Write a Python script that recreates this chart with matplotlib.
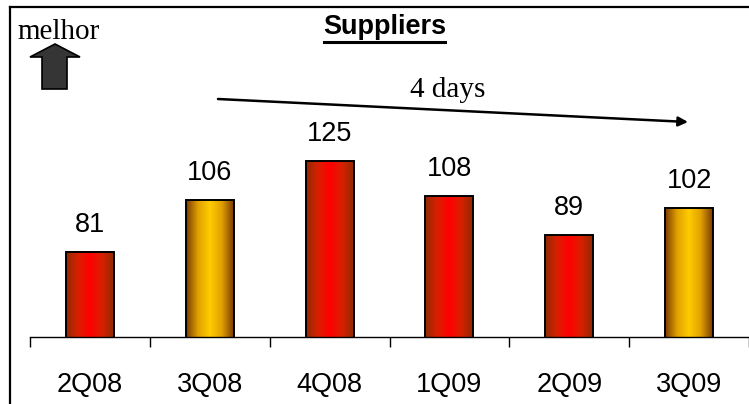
import numpy as np
import matplotlib
matplotlib.use("Agg")
import matplotlib.pyplot as plt
from matplotlib.colors import LinearSegmentedColormap
from matplotlib.patches import Polygon
from matplotlib.lines import Line2D

# Data
quarters = ["2Q08", "3Q08", "4Q08", "1Q09", "2Q09", "3Q09"]
days = [81, 106, 125, 108, 89, 102]
bar_styles = ["red", "gold", "red", "red", "red", "gold"]
title = "Suppliers"
trend_label = "4 days"
better_label = "melhor"

W, H = 749, 404
fig = plt.figure(figsize=(W / 100, H / 100), dpi=100)


def fx(px):
    return px / W


def fy(py):
    return 1 - py / H


# horizontal cylinder-like gradients
cmaps = {
    "red": LinearSegmentedColormap.from_list(
        "redbar", ["#8f2a00", "#d82000", "#ff0000", "#d82000", "#8f2a00"]),
    "gold": LinearSegmentedColormap.from_list(
        "goldbar", ["#7a3a00", "#e0a000", "#ffcc00", "#e0a000", "#7a3a00"]),
}

base_px, top_px = 337, 20
ax = fig.add_axes([fx(30), fy(base_px), (W - 30) / W, (base_px - top_px) / H])
ymin = 39.3
ymax = ymin + (base_px - top_px) / 2.05

x = np.arange(len(quarters))
bars = ax.bar(x, days, width=0.4, facecolor="none", edgecolor="black",
              linewidth=1.4, zorder=3)
grad = np.linspace(0, 1, 256).reshape(1, -1)
for rect, style in zip(bars, bar_styles):
    x0, w, h = rect.get_x(), rect.get_width(), rect.get_height()
    im = ax.imshow(grad, extent=[x0, x0 + w, ymin, h], aspect="auto",
                   cmap=cmaps[style], zorder=2, interpolation="bilinear")

for xi, v in zip(x, days):
    ax.annotate(str(v), xy=(xi, v), xytext=(0, 14.4), textcoords="offset points",
                ha="center", va="baseline", fontsize=19.5, family="Liberation Sans")

ax.set_xlim(-0.5, 5.5)
ax.set_ylim(ymin, ymax)
for s in ["top", "right", "left"]:
    ax.spines[s].set_visible(False)
ax.spines["bottom"].set_linewidth(1.0)
ax.spines["bottom"].set_zorder(4)
ax.set_yticks([])
ax.set_xticks(x)
ax.set_xticklabels(quarters, fontsize=19.5, family="Liberation Sans")
ax.set_xticks(np.arange(-0.5, 6.0, 1.0), minor=True)
ax.tick_params(axis="x", which="major", length=0, pad=25)
ax.tick_params(axis="x", which="minor", length=7.2, width=1.0, direction="out")
ax.patch.set_alpha(0)

# frame lines
fig.add_artist(Line2D([fx(10), 1], [fy(7), fy(7)], color="black", lw=1.6))
fig.add_artist(Line2D([fx(10), fx(10)], [fy(7), 0], color="black", lw=1.6))

# title with underline
fig.text(fx(385), fy(34), title, ha="center", va="baseline", fontsize=19.5,
         fontweight="bold", family="Liberation Sans")
fig.add_artist(Line2D([fx(324), fx(445)], [fy(42), fy(42)], color="black", lw=2.2))

# "better" marker
fig.text(fx(17), fy(39), better_label, ha="left", va="baseline", fontsize=21,
         family="Liberation Serif")
arrow_pts = [(30, 57), (55, 44), (80, 57), (67, 57), (67, 89), (42, 89), (42, 57)]
fig.add_artist(Polygon([(fx(px), fy(py)) for px, py in arrow_pts], closed=True,
                       facecolor="#353535", edgecolor="black", lw=1.2,
                       transform=fig.transFigure))

# trend arrow
ax.annotate("", xy=(688, H - 122), xytext=(218, H - 99), xycoords="figure pixels",
            textcoords="figure pixels",
            arrowprops=dict(arrowstyle="-|>", lw=1.8, color="black",
                            mutation_scale=14, shrinkA=0, shrinkB=0))
fig.text(fx(448), fy(97), trend_label, ha="center", va="baseline", fontsize=21,
         family="Liberation Serif")

fig.savefig("out.png", dpi=100)
